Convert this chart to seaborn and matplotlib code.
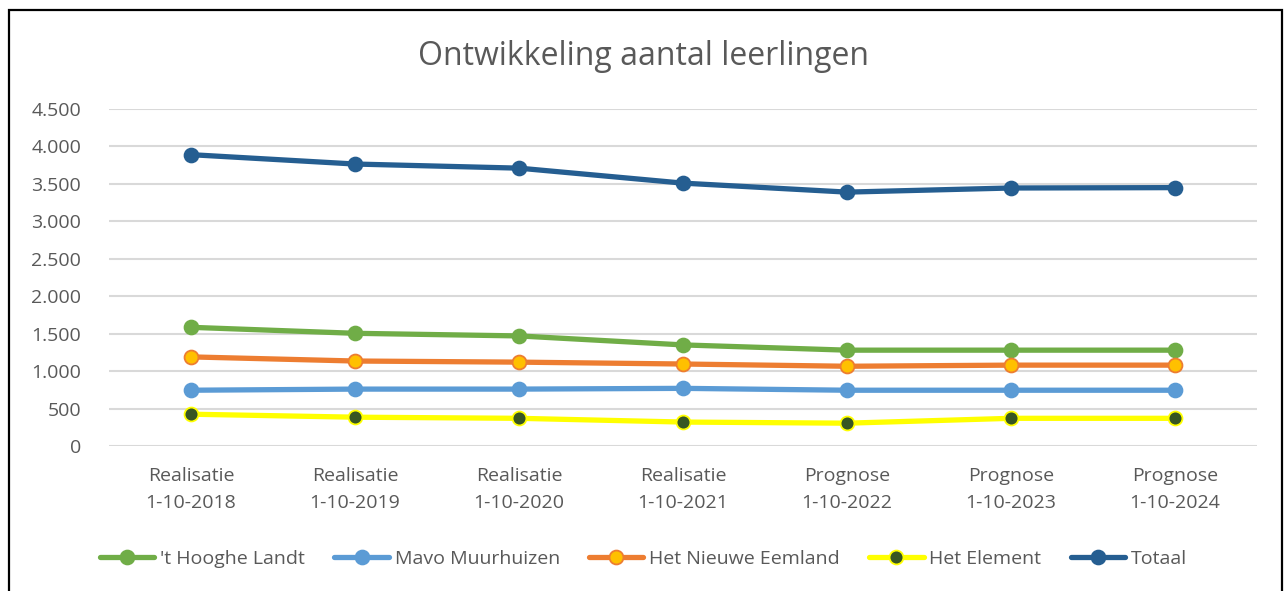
import pandas as pd
import matplotlib.pyplot as plt
import matplotlib.ticker as mticker
from matplotlib.patches import Rectangle
import seaborn as sns

# Data
periods = ['Realisatie\n1-10-2018', 'Realisatie\n1-10-2019', 'Realisatie\n1-10-2020',
           'Realisatie\n1-10-2021', 'Prognose\n1-10-2022', 'Prognose\n1-10-2023',
           'Prognose\n1-10-2024']
hooghe_landt = [1585, 1505, 1470, 1350, 1280, 1280, 1280]
mavo_muurhuizen = [745, 760, 760, 770, 745, 745, 745]
nieuwe_eemland = [1190, 1135, 1120, 1095, 1065, 1080, 1080]
het_element = [425, 385, 370, 320, 305, 370, 370]
totaal = [3890, 3765, 3710, 3510, 3390, 3445, 3450]

series = {
    "'t Hooghe Landt": hooghe_landt,
    'Mavo Muurhuizen': mavo_muurhuizen,
    'Het Nieuwe Eemland': nieuwe_eemland,
    'Het Element': het_element,
    'Totaal': totaal,
}
# line colour, marker face, marker edge
styles = {
    "'t Hooghe Landt": ('#70AD47', '#70AD47', '#70AD47'),
    'Mavo Muurhuizen': ('#5B9BD5', '#5B9BD5', '#5B9BD5'),
    'Het Nieuwe Eemland': ('#ED7D31', '#FFC000', '#ED7D31'),
    'Het Element': ('#FFFF00', '#375623', '#FFFF00'),
    'Totaal': ('#255E91', '#255E91', '#255E91'),
}

sns.set_style('white')
plt.rcParams['font.family'] = ['Open Sans', 'DejaVu Sans']

fig = plt.figure(figsize=(12.87, 5.91), dpi=100)
ax = fig.add_axes([0.0847, 0.2453, 0.892, 0.5703])

x = list(range(len(periods)))
for name, vals in series.items():
    line_c, face_c, edge_c = styles[name]
    df = pd.DataFrame({'x': x, 'y': vals})
    sns.lineplot(data=df, x='x', y='y', ax=ax, color=line_c, linewidth=3.8,
                 marker='o', markersize=10, markerfacecolor=face_c,
                 markeredgecolor=edge_c, markeredgewidth=1.3, label=name)

ax.set_xlim(-0.5, len(periods) - 0.5)
ax.set_ylim(0, 4500)
ax.yaxis.set_major_locator(mticker.MultipleLocator(500))
ax.yaxis.set_major_formatter(mticker.FuncFormatter(lambda v, p: f'{int(v):,}'.replace(',', '.')))
ax.set_xticks(x)
ax.set_xticklabels(periods, linespacing=1.65)
ax.grid(axis='y', color='#D9D9D9', linewidth=1.5)
ax.set_axisbelow(True)
for s in ax.spines.values():
    s.set_visible(False)
ax.tick_params(axis='both', length=0, labelsize=14, colors='#595959')
ax.tick_params(axis='x', pad=15)
ax.tick_params(axis='y', pad=20)
ax.set_xlabel('')
ax.set_ylabel('')

fig.text(0.5, 0.905, 'Ontwikkeling aantal leerlingen', ha='center', va='center',
         fontsize=23, color='#595959')

ax.get_legend().remove()
handles, labels = ax.get_legend_handles_labels()
fig.legend(handles, labels, loc='center', bbox_to_anchor=(0.5, 0.054), ncol=5,
           frameon=False, fontsize=14, labelcolor='#595959', handlelength=2.8,
           columnspacing=1.5, handletextpad=0.3)

# outer chart border
fig.patches.append(Rectangle((9 / 1287, -0.02), 1273 / 1287, 1 - 10 / 591 + 0.02,
                             transform=fig.transFigure, fill=False,
                             edgecolor='black', linewidth=1.6))

fig.savefig('out.png', dpi=100)
